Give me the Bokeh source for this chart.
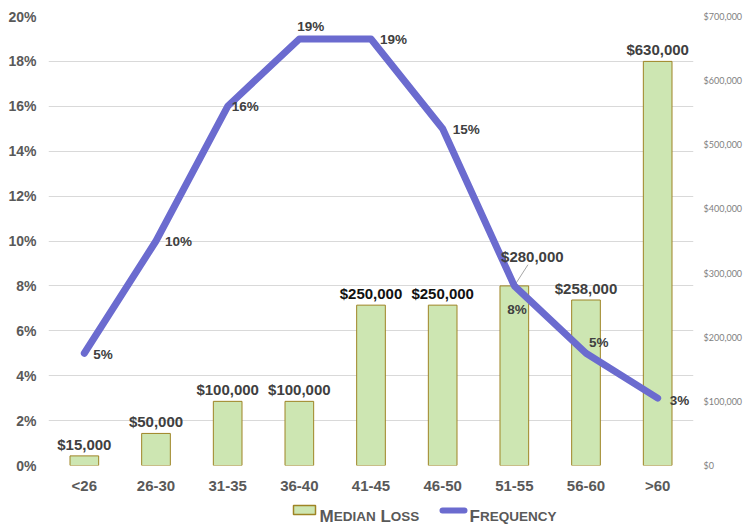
import numpy as np
from bokeh.plotting import figure
from bokeh.layouts import column
from bokeh.models import (ColumnDataSource, Range1d, LinearAxis, FixedTicker,
                          SingleIntervalTicker, PrintfTickFormatter, NumeralTickFormatter,
                          Label, LabelSet, BoxAnnotation)
from bokeh.core.properties import value
from bokeh.embed import file_html
from bokeh.resources import INLINE

# ---------------- data ----------------
categories = ["<26", "26-30", "31-35", "36-40", "41-45", "46-50", "51-55", "56-60", ">60"]
median_loss = [15000, 50000, 100000, 100000, 250000, 250000, 280000, 258000, 630000]
frequency = [5, 10, 16, 19, 19, 15, 8, 5, 3]

# ---------------- styling ----------------
FONT = "Liberation Sans"
BAR_FILL = "#CDE6B2"
BAR_LINE = "#9E8424"
LINE_COLOR = "#6B6BCF"
TICK_GREY = "#595959"
LABEL_GREY = "#404040"

x = list(range(len(categories)))
loss_text = ["${:,}".format(v) for v in median_loss]
freq_text = ["{}%".format(v) for v in frequency]

# label placement (pixels)
loss_dx = [0, 0, 0, 0, 0, 0, 18, 0, 0]
loss_dy = [6, 6, 6, 6, 6, 6, 24, 6, 6]
loss_col = [LABEL_GREY, LABEL_GREY, LABEL_GREY, LABEL_GREY, "#111111", "#111111",
            LABEL_GREY, LABEL_GREY, LABEL_GREY]
freq_dx = [9, 9, 4, -2, 9, 10, -7, 3, 12]
freq_dy = [-1, 0, 0, 12, -1, -1, -24, 11, -2]

src = ColumnDataSource(dict(x=x, loss=median_loss, freq=frequency,
                            loss_text=loss_text, freq_text=freq_text,
                            ldx=loss_dx, ldy=loss_dy, lcol=loss_col,
                            fdx=freq_dx, fdy=freq_dy))

p = figure(width=745, height=496,
           x_range=Range1d(-0.5, len(categories) - 0.5), y_range=Range1d(0, 20),
           output_backend="svg", toolbar_location=None,
           min_border_left=48, min_border_right=50, min_border_top=16, min_border_bottom=30)
p.extra_y_ranges = {"money": Range1d(0, 700000)}
p.outline_line_color = None
p.background_fill_color = "white"
p.border_fill_color = "white"

# grid
p.xgrid.visible = False
p.ygrid.grid_line_color = "#d9d9d9"
p.ygrid.grid_line_width = 1

# left axis
p.yaxis.ticker = SingleIntervalTicker(interval=2)
p.yaxis.formatter = PrintfTickFormatter(format="%d%%")
p.yaxis.axis_line_color = None
p.yaxis.major_tick_line_color = None
p.yaxis.minor_tick_line_color = None
p.yaxis.major_tick_out = 0
p.yaxis.major_tick_in = 0
p.yaxis.minor_tick_out = 0
p.yaxis.major_label_text_font = FONT
p.yaxis.major_label_text_font_style = "bold"
p.yaxis.major_label_text_font_size = "14px"
p.yaxis.major_label_text_color = TICK_GREY
p.yaxis.major_label_standoff = 12

# right axis
ra = LinearAxis(y_range_name="money", ticker=SingleIntervalTicker(interval=100000),
                formatter=NumeralTickFormatter(format="$0,0"))
ra.axis_line_color = None
ra.major_tick_line_color = None
ra.minor_tick_line_color = None
ra.major_tick_out = 0
ra.major_tick_in = 0
ra.minor_tick_out = 0
ra.major_label_text_font = "Lato"
ra.major_label_text_font_size = "9px"
ra.major_label_text_color = "#7f7f7f"
ra.major_label_standoff = 10
p.add_layout(ra, "right")

# x axis
p.xaxis.ticker = FixedTicker(ticks=x)
p.xaxis.major_label_overrides = {i: c for i, c in zip(x, categories)}
p.xaxis.axis_line_color = None
p.xaxis.major_tick_line_color = None
p.xaxis.minor_tick_line_color = None
p.xaxis.major_tick_out = 0
p.xaxis.major_tick_in = 0
p.xaxis.minor_tick_out = 0
p.xaxis.major_label_text_font = FONT
p.xaxis.major_label_text_font_style = "bold"
p.xaxis.major_label_text_font_size = "15px"
p.xaxis.major_label_text_color = TICK_GREY
p.xaxis.major_label_standoff = 11

# bars
p.vbar(x="x", top="loss", width=0.4, y_range_name="money", source=src,
       fill_color=BAR_FILL, line_color=BAR_LINE, line_width=1)

# leader line for the 51-55 label
i6 = 6
p.segment(x0=[x[i6]], y0=[median_loss[i6]], x1=[x[i6] + 0.19], y1=[median_loss[i6] + 33000],
          y_range_name="money", line_color="#a6a6a6", line_width=1)

# frequency line
p.line(x="x", y="freq", source=src, line_width=7, line_color=LINE_COLOR,
       line_cap="round", line_join="round")

# bar labels
p.add_layout(LabelSet(x="x", y="loss", text="loss_text", y_range_name="money", source=src,
                      x_offset="ldx", y_offset="ldy", text_align="center",
                      text_baseline="alphabetic", text_font=value(FONT),
                      text_font_style="bold", text_font_size="15px", text_color="lcol"))
# frequency labels
p.add_layout(LabelSet(x="x", y="freq", text="freq_text", source=src,
                      x_offset="fdx", y_offset="fdy", text_align="left",
                      text_baseline="middle", text_font=value(FONT),
                      text_font_style="bold", text_font_size="13.5px", text_color=LABEL_GREY))

# ---------------- legend (small caps) in its own strip ----------------
LG_H = 29
lg = figure(width=745, height=LG_H, x_range=Range1d(0, 745), y_range=Range1d(0, LG_H),
            output_backend="svg", toolbar_location=None, min_border=0)
lg.axis.visible = False
lg.grid.visible = False
lg.outline_line_color = None
lg.border_fill_color = "white"
lg.background_fill_color = "white"

W = {"M": .833, "E": .667, "D": .722, "I": .278, "A": .722, "N": .722, " ": .278,
     "L": .611, "O": .778, "S": .667, "F": .611, "R": .722, "Q": .778, "U": .722,
     "C": .722, "Y": .667}


def small_caps(fig, text, x0, y0, big=17.0, small=13.5):
    runs = []
    for ch in text:
        kind = "b" if ch.isupper() else ("s" if ch.islower() else "sp")
        if runs and runs[-1][0] == kind:
            runs[-1][1] += ch
        else:
            runs.append([kind, ch])
    xx = x0
    for kind, s in runs:
        if kind == "sp":
            xx += W[" "] * big * len(s)
            continue
        size = big if kind == "b" else small
        s2 = s.upper()
        fig.add_layout(Label(x=xx, y=y0, x_units="screen", y_units="screen", text=s2,
                             text_font=FONT, text_font_style="bold",
                             text_font_size="{}px".format(size), text_color=TICK_GREY,
                             text_baseline="alphabetic", text_align="left"))
        xx += sum(W[c] for c in s2) * size


lg.add_layout(BoxAnnotation(left=245, right=267, top=20, bottom=11,
                            left_units="screen", right_units="screen",
                            top_units="screen", bottom_units="screen",
                            fill_color=BAR_FILL, fill_alpha=1, line_color=BAR_LINE,
                            line_alpha=1, line_width=1.5))
small_caps(lg, "Median Loss", 271, 9)
lg.add_layout(BoxAnnotation(left=391, right=419, top=18, bottom=12,
                            left_units="screen", right_units="screen",
                            top_units="screen", bottom_units="screen",
                            fill_color=LINE_COLOR, fill_alpha=1, line_color=None,
                            border_radius=3))
small_caps(lg, "Frequency", 421, 9)

layout = column(p, lg, spacing=0)
open("out.html", "w").write(file_html(layout, INLINE))
